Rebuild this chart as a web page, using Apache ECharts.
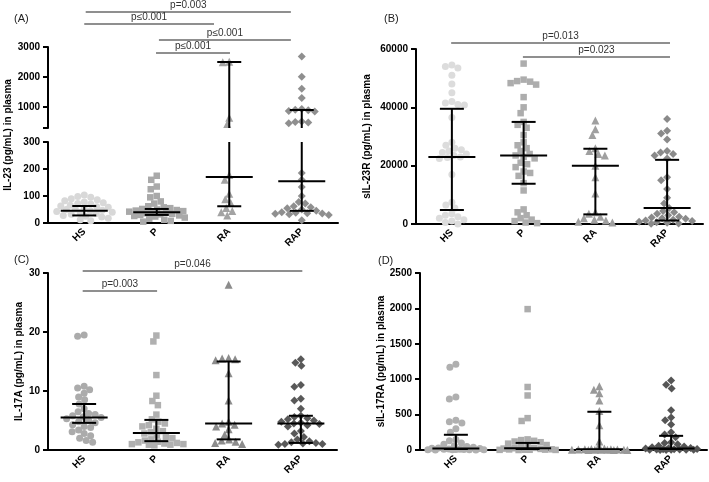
<!DOCTYPE html>
<html><head><meta charset="utf-8">
<script src="https://cdn.jsdelivr.net/npm/echarts@6/dist/echarts.min.js"></script>
<style>html,body{margin:0;padding:0;background:#fff}#c{width:709px;height:482px}</style>
</head><body><div id="c"></div>
<script>
const categories = ['HS', 'P', 'RA', 'RAP'];

// (A) IL-23 (pg/mL) in plasma  (broken axis: 0-300 / 300-3000)
const a_HS  = [104, 98, 95, 90, 86, 82, 78, 75, 72, 70, 66, 63, 60, 58, 55, 52, 50, 47, 45, 43, 40, 38, 35, 32, 28, 25, 22, 18, 12, 8];
const a_P   = [175, 160, 135, 125, 100, 95, 80, 72, 62, 58, 55, 52, 50, 48, 46, 44, 42, 40, 38, 36, 34, 32, 30, 28, 26, 24, 20, 16, 12, 8, 5];
const a_RA  = [2510, 2490, 640, 430, 178, 160, 108, 88, 74, 56, 44, 40, 28];
const a_RAP = [2680, 2010, 1610, 1300, 930, 910, 890, 870, 850, 520, 500, 480, 460, 185, 160, 133, 100, 78, 72, 62, 58, 55, 50, 45, 40, 38, 36, 35, 34, 32, 30, 10];
const a_median = [45, 40, 170, 155];
const a_q1 = [28, 30, 62, 45];
const a_q3 = [63, 52, 2500, 900];
const a_sigText = ['p=0.003', 'p\u22640.001', 'p\u22640.001', 'p\u22640.001'];
const a_sigFrom = [0.52, 0.50, 1.53, 1.49];
const a_sigTo = [3.35, 2.29, 3.35, 2.51];
const a_sigLevel = [4170, 3770, 3230, 2800];

// (B) sIL-23R (pg/mL) in plasma
const b_HS  = [54500, 54000, 53500, 51000, 48000, 45000, 42000, 41500, 41000, 40800, 36500, 28000, 27000, 26000, 25500, 25000, 24500, 24000, 23500, 23000, 22800, 22500, 17000, 7500, 6500, 5500, 3500, 3000, 2500, 2000, 1500, 1000, 500, 0];
const b_P   = [55000, 49500, 49000, 48800, 48300, 47800, 43500, 40000, 38000, 35000, 34000, 33000, 30500, 28000, 27000, 26000, 25000, 24000, 23500, 23000, 22500, 21000, 20500, 19500, 18000, 17500, 16500, 14000, 11500, 5000, 4000, 3000, 2000, 1500, 1000, 500, 300];
const b_RA  = [35500, 32500, 30500, 26000, 25000, 24000, 23500, 20000, 16000, 10500, 4000, 3500, 2500, 2000, 1500, 1200, 800, 500];
const b_RAP = [36000, 32000, 31000, 29000, 25000, 24500, 24000, 23500, 22500, 16000, 15000, 12000, 9000, 7000, 5500, 4500, 4000, 3500, 3000, 2500, 2200, 2000, 1800, 1500, 1200, 1000, 800, 600, 400, 200, 100];
const b_median = [23000, 23500, 20000, 5500];
const b_q1 = [4800, 13800, 3300, 1200];
const b_q3 = [39500, 35000, 25800, 22000];
const b_sigText = ['p=0.013', 'p=0.023'];
const b_sigFrom = [0.49, 1.49];
const b_sigTo = [3.54, 3.54];
const b_sigLevel = [62060, 57260];

// (C) IL-17A (pg/mL) in plasma
const c_HS  = [19.5, 19.3, 10.8, 10.5, 10.2, 9.6, 9.0, 8.5, 7.8, 7.0, 6.5, 6.2, 6.0, 5.8, 5.6, 5.5, 5.3, 5.0, 4.8, 4.6, 4.3, 4.0, 3.8, 3.4, 3.1, 2.8, 2.4, 2.0, 1.6, 1.3];
const c_P   = [19.4, 18.4, 12.7, 9.2, 8.3, 7.6, 6.0, 5.2, 4.8, 4.5, 4.2, 4.0, 3.6, 3.2, 3.0, 2.8, 2.5, 2.2, 2.0, 1.8, 1.6, 1.4, 1.3, 1.2, 1.1, 1.0, 1.0, 0.9, 0.9, 0.8];
const c_RA  = [28.0, 15.6, 15.5, 15.4, 15.2, 13.0, 8.4, 4.8, 4.5, 4.3, 4.0, 3.5, 2.6, 1.8, 1.6, 1.4, 1.2, 1.0];
const c_RAP = [15.4, 14.8, 14.3, 11.0, 10.7, 8.7, 8.4, 7.0, 5.8, 5.6, 5.4, 5.2, 5.0, 4.8, 4.6, 4.5, 4.4, 4.2, 4.0, 3.2, 2.8, 2.2, 1.8, 1.5, 1.3, 1.2, 1.1, 1.0, 1.0, 0.9];
const c_median = [5.5, 2.9, 4.5, 4.5];
const c_q1 = [4.6, 1.5, 1.8, 1.2];
const c_q3 = [7.8, 5.1, 15.0, 5.8];
const c_sigText = ['p=0.046', 'p=0.003'];
const c_sigFrom = [0.48, 0.48];
const c_sigTo = [3.52, 1.51];
const c_sigLevel = [30.34, 26.95];

// (D) sIL-17RA (pg/mL) in plasma
const d_HS  = [1210, 1170, 750, 720, 420, 400, 380, 300, 250, 150, 130, 100, 80, 60, 50, 40, 30, 25, 20, 15, 12, 10, 8, 6, 5, 4, 3, 2, 1, 0];
const d_P   = [1990, 890, 770, 450, 410, 150, 140, 130, 120, 110, 90, 70, 50, 40, 30, 25, 20, 15, 10, 8, 5, 4, 3, 2, 1, 0];
const d_RA  = [900, 850, 800, 700, 550, 350, 120, 30, 20, 15, 12, 10, 8, 6, 5, 4, 3, 2, 2, 1, 1, 0];
const d_RAP = [980, 920, 870, 560, 460, 420, 360, 250, 220, 180, 110, 100, 80, 60, 50, 40, 30, 25, 20, 15, 12, 10, 8, 6, 5, 4, 3, 2, 1, 0];
const d_median = [20, 25, 10, 20];
const d_q1 = [0, 5, 0, 5];
const d_q3 = [215, 100, 540, 200];

const FONT = '"Liberation Sans", Arial, sans-serif';
const symbols = ['circle', 'rect', 'triangle', 'diamond'];
const symSizes = [7, 6.5, 8, 8];
const colA = ['#d8d8d8', '#a9a9a9', '#a3a3a3', '#8f8f8f'];
const colB = ['#dcdcdc', '#adadad', '#a0a0a0', '#8a8a8a'];
const colC = ['#ababab', '#b0b0b0', '#8c8c8c', '#595959'];
const colD = ['#b0b0b0', '#adadad', '#999999', '#555555'];

const chart = echarts.init(document.getElementById('c'), null, {renderer: 'canvas'});

const grids = [
  {left: 48, top: 47, width: 290, height: 81},   // 0 A top (300-3000)
  {left: 48, top: 142, width: 290, height: 81},  // 1 A bottom (0-300)
  {left: 416, top: 49, width: 287, height: 175}, // 2 B
  {left: 48, top: 273, width: 289, height: 177}, // 3 C
  {left: 420, top: 273, width: 287, height: 177},// 4 D
  {left: 48, top: 47, width: 290, height: 176}   // 5 A title holder
];

const xAxes = [];
grids.forEach((g, i) => {
  xAxes.push({
    type: 'category', gridIndex: i, data: categories,
    show: (i !== 0 && i !== 5),
    axisLine: {lineStyle: {color: '#000', width: 2}},
    axisTick: {alignWithLabel: true, length: 4, lineStyle: {color: '#000', width: 1.5}},
    axisLabel: {rotate: 45, fontWeight: 'bold', fontSize: 10, color: '#000', fontFamily: FONT, margin: 7, interval: 0}
  });
  xAxes.push({type: 'value', gridIndex: i, min: 0, max: 4, show: false});
});

function yAxis(i, min, max, extra) {
  const ax = {
    type: 'value', gridIndex: i, min: min, max: max,
    splitLine: {show: false},
    axisLine: {show: true, lineStyle: {color: '#000', width: 2}},
    axisTick: {show: true, length: 5, lineStyle: {color: '#000', width: 2}},
    axisLabel: {fontWeight: 'bold', fontSize: 10, color: '#000', fontFamily: FONT, margin: 8,
                formatter: v => String(v)},
    nameLocation: 'middle',
    nameTextStyle: {fontWeight: 'bold', fontSize: 10, fontFamily: FONT, color: '#000'}
  };
  if (extra.interval) ax.interval = extra.interval;
  if (extra.name) { ax.name = extra.name; ax.nameGap = extra.nameGap; }
  if (extra.tickValues) ax.axisTick.customValues = extra.tickValues;
  if (extra.labelValues) ax.axisLabel.customValues = extra.labelValues;
  return ax;
}

const yAxes = [
  yAxis(0, 300, 3000, {tickValues: [300, 1000, 2000, 3000], labelValues: [1000, 2000, 3000]}),
  yAxis(1, 0, 300, {interval: 100}),
  yAxis(2, 0, 60000, {interval: 20000, name: 'sIL-23R (pg/mL) in plasma', nameGap: 44}),
  yAxis(3, 0, 30, {interval: 10, name: 'IL-17A (pg/mL) in plasma', nameGap: 24}),
  yAxis(4, 0, 2500, {interval: 500, name: 'sIL-17RA (pg/mL) in plasma', nameGap: 33}),
  (function () {
    const ax = yAxis(5, 0, 1, {name: 'IL-23 (pg/mL) in plasma', nameGap: 35});
    ax.axisLine.show = false; ax.axisTick.show = false; ax.axisLabel.show = false;
    return ax;
  })()
];

const titleStyle = {fontSize: 11, fontWeight: 'normal', color: '#222', fontFamily: FONT};
chart.setOption({
  animation: false,
  backgroundColor: '#fff',
  title: [
    {text: '(A)', left: 9, top: 8, textStyle: titleStyle},
    {text: '(B)', left: 379, top: 8, textStyle: titleStyle},
    {text: '(C)', left: 9, top: 249, textStyle: titleStyle},
    {text: '(D)', left: 373, top: 250, textStyle: titleStyle}
  ],
  grid: grids,
  xAxis: xAxes,
  yAxis: yAxes,
  series: []
});

// beeswarm-style horizontal spreading, in pixel space, capped width
function swarm(values, gi, catIdx) {
  const f = {xAxisIndex: 2 * gi + 1, yAxisIndex: gi};
  const p0 = chart.convertToPixel(f, [catIdx + 0.5, 0]);
  const p1 = chart.convertToPixel(f, [catIdx + 1.5, 0]);
  const band = p1[0] - p0[0];
  const d = 6.5, maxOff = 28;
  const placed = [];
  const out = [];
  const order = values.map((v, k) => k).sort((a, b) => values[b] - values[a]);
  order.forEach(k => {
    const py = chart.convertToPixel(f, [catIdx + 0.5, values[k]])[1];
    let off = null, bestOff = 0, bestDist = -1;
    for (let s = 0; ; s++) {
      const cand = (s % 2 === 0 ? 1 : -1) * Math.ceil(s / 2) * 0.5;
      if (Math.abs(cand) > maxOff) break;
      let minD = Infinity;
      for (const p of placed) {
        const dx = p[0] - cand, dy = p[1] - py;
        minD = Math.min(minD, Math.sqrt(dx * dx + dy * dy));
      }
      if (minD >= d) { off = cand; break; }
      if (minD > bestDist + 0.3) { bestDist = minD; bestOff = cand; }
    }
    if (off === null) off = bestOff;
    placed.push([off, py]);
    out.push([catIdx + 0.5 + off / band, values[k]]);
  });
  return out;
}

function errRender(params, api) {
  const x = api.value(0);
  const m = api.coord([x, api.value(1)]);
  const lo = api.coord([x, api.value(2)]);
  const hi = api.coord([x, api.value(3)]);
  const W = 23.5, C = 12;
  const st = {stroke: '#000', lineWidth: 2};
  return {type: 'group', children: [
    {type: 'line', shape: {x1: m[0], y1: lo[1], x2: m[0], y2: hi[1]}, style: st},
    {type: 'line', shape: {x1: m[0] - W, y1: m[1], x2: m[0] + W, y2: m[1]}, style: st},
    {type: 'line', shape: {x1: m[0] - C, y1: lo[1], x2: m[0] + C, y2: lo[1]}, style: st},
    {type: 'line', shape: {x1: m[0] - C, y1: hi[1], x2: m[0] + C, y2: hi[1]}, style: st}
  ]};
}

function sigRender(labels) {
  return function (params, api) {
    const a = api.coord([api.value(0), api.value(2)]);
    const b = api.coord([api.value(1), api.value(2)]);
    return {type: 'group', children: [
      {type: 'line', shape: {x1: a[0], y1: a[1], x2: b[0], y2: b[1]}, style: {stroke: '#6a6a6a', lineWidth: 1.5}},
      {type: 'text', x: (a[0] + b[0]) / 2, y: a[1] - 1.5,
       style: {text: labels[params.dataIndex], align: 'center', verticalAlign: 'bottom', fill: '#333', font: '10px ' + FONT}}
    ]};
  };
}

const series = [];
function addScatter(values, gi, ci, color) {
  series.push({
    type: 'scatter', xAxisIndex: 2 * gi + 1, yAxisIndex: gi,
    symbol: symbols[ci], symbolSize: symSizes[ci],
    itemStyle: {color: color, opacity: 1},
    clip: false, z: 3,
    data: swarm(values, gi, ci)
  });
}
function addErr(gi, med, q1, q3) {
  series.push({
    type: 'custom', xAxisIndex: 2 * gi + 1, yAxisIndex: gi, clip: true, z: 5,
    renderItem: errRender,
    encode: {x: 0, y: [1, 2, 3]},
    data: categories.map((c, i) => [i + 0.5, med[i], q1[i], q3[i]])
  });
}
function addSig(gi, from, to, level, labels) {
  series.push({
    type: 'custom', xAxisIndex: 2 * gi + 1, yAxisIndex: gi, clip: false, z: 5,
    renderItem: sigRender(labels),
    encode: {x: [0, 1], y: 2},
    data: from.map((f, i) => [f, to[i], level[i]])
  });
}

// Panel A: split by axis break
[a_HS, a_P, a_RA, a_RAP].forEach((vals, ci) => {
  const hi = vals.filter(v => v >= 300), lo = vals.filter(v => v < 300);
  if (hi.length) addScatter(hi, 0, ci, colA[ci]);
  if (lo.length) addScatter(lo, 1, ci, colA[ci]);
});
addErr(0, a_median, a_q1, a_q3);
addErr(1, a_median, a_q1, a_q3);
addSig(0, a_sigFrom, a_sigTo, a_sigLevel, a_sigText);

[b_HS, b_P, b_RA, b_RAP].forEach((vals, ci) => addScatter(vals, 2, ci, colB[ci]));
addErr(2, b_median, b_q1, b_q3);
addSig(2, b_sigFrom, b_sigTo, b_sigLevel, b_sigText);

[c_HS, c_P, c_RA, c_RAP].forEach((vals, ci) => addScatter(vals, 3, ci, colC[ci]));
addErr(3, c_median, c_q1, c_q3);
addSig(3, c_sigFrom, c_sigTo, c_sigLevel, c_sigText);

[d_HS, d_P, d_RA, d_RAP].forEach((vals, ci) => addScatter(vals, 4, ci, colD[ci]));
addErr(4, d_median, d_q1, d_q3);

chart.setOption({series: series});
</script>
</body></html>
